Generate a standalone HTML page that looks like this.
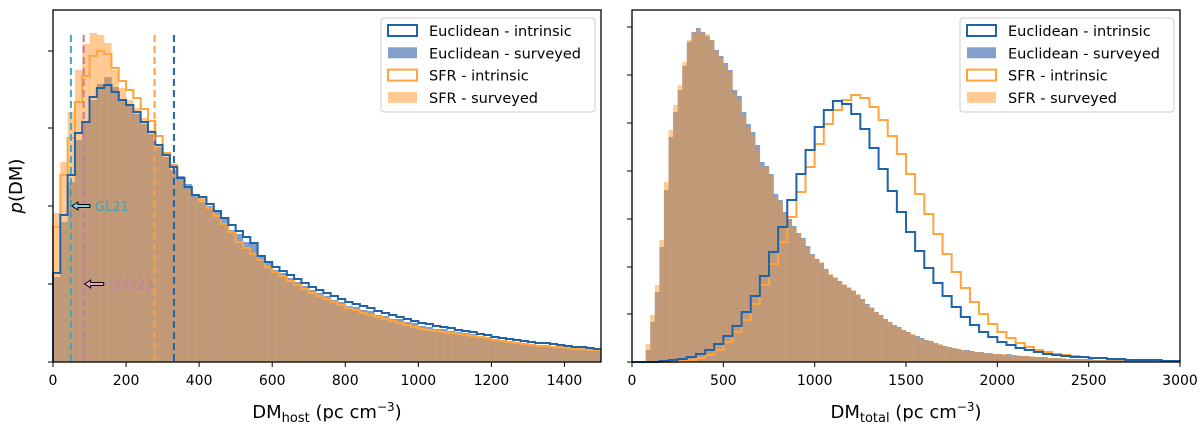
<!DOCTYPE html>
<html><head><meta charset="utf-8"><style>
html,body{margin:0;padding:0;background:#fff;}
svg{display:block;font-family:"DejaVu Sans","Liberation Sans",sans-serif;}
</style></head><body>
<svg id="chart" width="1200" height="425" viewBox="0 0 1200 425" xmlns="http://www.w3.org/2000/svg">
<g id="left"></g>
<g id="right"></g>
</svg>
<script>
// ---- Left panel data (DM_host, 20-unit bins starting at 0) ----
const leftBinStart = 0, leftBinWidth = 20;
const leftEucIntrinsic = [89,147,187,229,240,265,274,277,270,262,257,250,240,230,217,207,195,184,175,167,
165,158,151,144,137,131,125,119,106,100,95,91,87,83,79,75,72,69,66,63,60,58,56,54,51,49,47,45,43,41,39,38,36,35,34,32,31,30,28,27,25,24,23,22,21,20,19,19,18,17,16,15,15,14,13];
const leftSfrIntrinsic = [135,187,224,260,286,306,311,308,294,281,272,264,253,241,226,209,197,184,175,167,
162,154,146,138,130,120,114,108,102,95,90,86,81,77,73,69,66,63,60,57,54,52,49,47,45,43,41,39,37,35,33,32,31,30,29,28,27,26,25,24,22,21,20,19,18,17,16,16,15,15,14,13,13,12,12];
const leftEucSurveyed = [85,140,180,222,240,262,278,285,275,262,256,248,238,228,215,205,192,186,178,168,
160,156,150,145,132,128,120,118,105,99,92,89,84,80,76,72,69,66,62,60,56,55,52,51,47,46,43,43,40,39,36,35,33,33,31,30,29,28,26,25,23,22,21,20,19,18,17,17,16,15,14,14,13,12,12];
const leftSfrSurveyed = [149,200,250,292,318,329,327,319,292,274,262,254,244,232,217,207,194,182,172,165,
165,155,148,136,131,121,113,110,100,96,88,87,80,78,72,70,65,64,59,58,53,53,48,48,44,44,40,40,36,36,32,32,30,30,28,28,26,26,24,24,21,21,19,19,17,17,15,16,14,15,13,13,12,12,11];
const leftVlines = [49, 84, 278, 331];
const leftVlineColors = ["#40a8b8","#c678a8","#ffa040","#1f63a8"];
const leftXTicks = [0,200,400,600,800,1000,1200,1400];
const leftYTicks = [0,78,156,234,311];

// ---- Right panel data (DM_total) ----
const rightSurvStart = 75, rightSurvWidth = 25;
const rightSfrSurveyed = [18,47,77,122,180,232,257,277,300,322,328,332,328,328,322,310,305,297,290,268,263,247,235,227,213,197,195,187,165,160,148,142,135,128,123,115,107,102,
100,92,88,85,80,78,75,72,68,62,57,55,50,46,42,40,37,34,32,30,28,25,23,22,20,19,18,16,15,14,13,12,11,11,10,10,9,9,8,8,8,7,7,7,6,6,6,5,5,5,4,4,4,4,3,3,3,3,3,3,2,2,2,2,2,2,2,2,1,1,1,1,1,1,1,1,1,1,1];
const rightEucSurveyed = [12,40,70,115,172,225,250,272,296,320,330,334,330,326,322,312,306,299,292,272,266,250,238,230,217,200,196,188,168,162,150,143,136,129,124,116,108,103,
99,93,87,84,81,77,74,71,67,63,58,54,50,47,43,40,37,35,32,30,27,26,24,22,21,19,17,16,15,14,13,12,12,11,10,10,9,9,8,8,7,8,7,6,6,6,5,5,5,5,4,4,4,3,3,3,3,3,3,3,2,2,2,2,2,2,2,2,1,1,1,1,1,1,1,1,1,1,1];
const rightIntStart = 0, rightIntWidth = 50;
const rightEucIntrinsic = [0,0,0,1,2,3,5,8,12,18,26,36,50,66,86,110,135,162,188,212,235,252,261,258,248,233,214,193,171,150,130,111,94,79,66,55,45,37,30,25,20,17,14,12,10,8,7,6,5,5,4,4,3,3,2,2,2,2,1,1];
const rightSfrIntrinsic = [0,0,0,0,0,1,2,4,7,12,20,30,42,58,77,98,120,145,170,195,218,238,252,262,267,264,255,242,226,208,188,168,148,128,108,90,74,60,48,38,30,24,19,15,12,10,8,7,6,5,4,4,3,3,2,2,2,1,1,1];
const rightXTicks = [0,500,1000,1500,2000,2500,3000];
const rightYTicks = [0,48,95,143,191,239,287,335];

const legendLabels = ["Euclidean - intrinsic","Euclidean - surveyed","SFR - intrinsic","SFR - surveyed"];

const NS = "http://www.w3.org/2000/svg";
const BLUE = "#1f63a8", ORANGE = "#ffa53c";
const BLUEFILL = "rgba(30,80,160,0.55)", ORANGEFILL = "rgba(255,150,40,0.5)";
const TOP = 10, BOT = 362;

function mk(tag, attrs, parent){ const e=document.createElementNS(NS,tag); for(const k in attrs) e.setAttribute(k,attrs[k]); parent.appendChild(e); return e; }

function panel(g, x0, x1, xmax, cfg){
  const xs = v => x0 + (v/xmax)*(x1-x0);
  const ys = v => BOT - v;
  // surveyed fills
  function bars(vals, start, w, color, name){
    const gg = mk('g',{},g);
    
    
    vals.forEach((v,i)=>{
      const a = start + i*w; if(a>=xmax) return;
      const b = Math.min(a+w, xmax);
      const r = mk('rect',{x:xs(a),y:ys(v),width:xs(b)-xs(a)+0.2,height:v,fill:color},gg);
      
      
    });
  }
  bars(cfg.eucS, cfg.sStart, cfg.sW, BLUEFILL, 'euclidean-surveyed-hist');
  bars(cfg.sfrS, cfg.sStart, cfg.sW, ORANGEFILL, 'sfr-surveyed-hist');
  function step(vals, start, w, color, name){
    let d = "M"+xs(start)+","+ys(0);
    vals.forEach((v,i)=>{ const a=start+i*w, b=Math.min(a+w,xmax); d+=" L"+xs(a)+","+ys(v)+" L"+xs(b)+","+ys(v); });
    const p = mk('path',{d:d,fill:'none',stroke:color,'stroke-width':2,'stroke-linejoin':'miter'},g);
    
    
  }
  step(cfg.sfrI, cfg.iStart, cfg.iW, ORANGE, 'sfr-intrinsic-line');
  step(cfg.eucI, cfg.iStart, cfg.iW, BLUE, 'euclidean-intrinsic-line');
  if(cfg.vlines){
    cfg.vlines.forEach((v,i)=>{
      const l = mk('line',{x1:xs(v),x2:xs(v),y1:35,y2:BOT,stroke:cfg.vcolors[i],'stroke-width':2,'stroke-dasharray':'7,4'},g);
      
      
    });
  }
  // frame
  const f = mk('rect',{x:x0,y:TOP,width:x1-x0,height:BOT-TOP,fill:'none',stroke:'#000','stroke-width':1.3},g);
  
  
  cfg.xticks.forEach(t=>{
    const x=xs(t);
    mk('line',{x1:x,x2:x,y1:BOT,y2:BOT+5,stroke:'#000','stroke-width':1},g);
    const tx = mk('text',{x:x,y:BOT+23,'text-anchor':'middle','font-size':'14px',fill:'#000'},g);
    tx.textContent = t;
    
    
  });
  cfg.yticks.forEach(t=>{
    mk('line',{x1:x0-5,x2:x0,y1:ys(t),y2:ys(t),stroke:'#000','stroke-width':1},g);
  });
  // legend
  const lx = x1-220, ly = 18;
  const lg = mk('g',{},g);
  
  
  mk('rect',{x:lx,y:ly,width:214,height:94,rx:3,fill:'#fff','fill-opacity':0.85,stroke:'#ccc','stroke-width':1},lg);
  const styles=[{fill:'#fff',stroke:BLUE},{fill:BLUEFILL,stroke:'none'},{fill:'#fff',stroke:ORANGE},{fill:ORANGEFILL,stroke:'none'}];
  legendLabels.forEach((lab,i)=>{
    const yy = ly+13+i*22.3;
    const s = styles[i];
    mk('rect',{x:lx+7,y:yy-6,width:29,height:11,fill:s.fill,stroke:s.stroke,'stroke-width':2},lg);
    const t = mk('text',{x:lx+48,y:yy+5,'font-size':'14.5px',fill:'#000'},lg);
    t.textContent = lab;
    
    
  });
  return xs;
}

const gl = document.getElementById('left');
const xsL = panel(gl, 53, 601, 1500, {eucS:leftEucSurveyed,sfrS:leftSfrSurveyed,sStart:leftBinStart,sW:leftBinWidth,
  eucI:leftEucIntrinsic,sfrI:leftSfrIntrinsic,iStart:leftBinStart,iW:leftBinWidth,xticks:leftXTicks,yticks:leftYTicks,
  vlines:leftVlines,vcolors:leftVlineColors});
const gr = document.getElementById('right');
panel(gr, 632, 1180, 3000, {eucS:rightEucSurveyed,sfrS:rightSfrSurveyed,sStart:rightSurvStart,sW:rightSurvWidth,
  eucI:rightEucIntrinsic,sfrI:rightSfrIntrinsic,iStart:rightIntStart,iW:rightIntWidth,xticks:rightXTicks,yticks:rightYTicks});

// annotations
function arrow(xTip, y, len, col, label, tcol, name){
  const g = mk('g',{},gl);
  
  
  const pts = `${xTip},${y} ${xTip+6},${y-4} ${xTip+6},${y-1.5} ${xTip+len},${y-1.5} ${xTip+len},${y+1.5} ${xTip+6},${y+1.5} ${xTip+6},${y+4}`;
  mk('polygon',{points:pts,fill:col,stroke:'#000','stroke-width':1},g);
  const t = mk('text',{x:xTip+len+5,y:y+5,'font-size':'13px',fill:tcol},g);
  t.textContent = label;
}
arrow(xsL(49)+1, 206, 18, '#7fd0e8', 'GL21', '#4a9fae', 'gl21-annotation');
arrow(xsL(84)+1, 284, 19, '#f0a0c0', 'Shin23', '#c080a0', 'shin23-annotation');

// axis titles
const svg = document.getElementById('chart');
let t = mk('text',{x:327,y:418,'text-anchor':'middle','font-size':'18px'},svg);
t.innerHTML = 'DM<tspan font-size="13px" dy="4">host</tspan><tspan dy="-4"> (pc cm</tspan><tspan font-size="12px" dy="-7">−3</tspan><tspan dy="7">)</tspan>';


t = mk('text',{x:906,y:418,'text-anchor':'middle','font-size':'18px'},svg);
t.innerHTML = 'DM<tspan font-size="13px" dy="4">total</tspan><tspan dy="-4"> (pc cm</tspan><tspan font-size="12px" dy="-7">−3</tspan><tspan dy="7">)</tspan>';


t = mk('text',{x:0,y:0,'text-anchor':'middle','font-size':'18px',transform:'translate(22,186) rotate(-90)'},svg);
t.innerHTML = '<tspan font-style="italic">p</tspan>(DM)';


</script>
</body></html>
